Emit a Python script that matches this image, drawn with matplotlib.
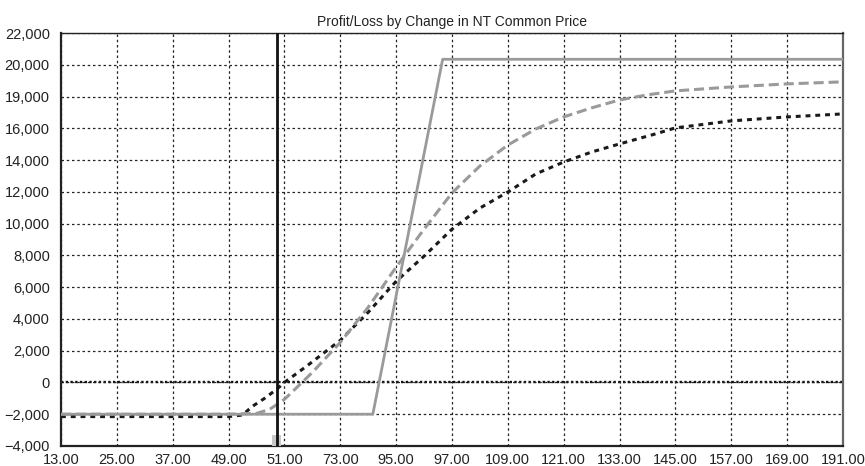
import matplotlib.pyplot as plt
import numpy as np

# 数据：NT 普通股价格变化对应的盈亏
price_expiry = [13, 80, 95, 181]
pl_expiry = [-2000, -2000, 20350, 20350]

price_mid = [13, 25, 37, 49, 55, 57.8, 61, 67, 73, 79, 85, 91, 97, 103,
             109, 115, 121, 127, 133, 139, 145, 157, 169, 181]
pl_mid = [-2000, -2000, -2000, -2000, -1950, -1700, -1070, 630, 2520, 4730,
          7260, 9650, 11930, 13630, 14950, 15960, 16720, 17290, 17790, 18110,
          18360, 18610, 18800, 18930]

price_far = [13, 25, 37, 49, 52, 54.1, 56.7, 59.3, 61, 65.7, 73, 79, 85, 91,
             97, 103, 109, 115, 121, 127, 133, 140.7, 145, 157, 169, 181]
pl_far = [-2150, -2150, -2150, -2150, -2050, -1510, -1010, -440, 0, 1010,
          2650, 4420, 6370, 7950, 9650, 10980, 11990, 13130, 13880, 14510,
          15020, 15650, 16030, 16470, 16720, 16910]

current_price = 59.5

x_ticks = np.arange(13, 182, 12)
x_labels = ['13.00', '25.00', '37.00', '49.00', '51.00', '73.00', '95.00',
            '97.00', '109.00', '121.00', '133.00', '145.00', '157.00',
            '169.00', '191.00']
y_ticks = np.arange(-4000, 22001, 2000)
y_labels = ['\u22124,000', '\u22122,000', '0', '2,000', '4,000', '6,000',
            '8,000', '10,000', '12,000', '14,000', '16,000', '19,000',
            '20,000', '22,000']

plt.rcParams['font.family'] = ['Liberation Sans Narrow', 'Liberation Sans', 'DejaVu Sans']

fig = plt.figure(figsize=(8.65, 4.66), dpi=100)
ax = fig.add_axes([0.0705, 0.043, 0.904, 0.886])

# 网格
ax.grid(True, color='#222222', linewidth=0.9, linestyle=(0, (2, 2.2)), zorder=0)
ax.axhline(0, color='#111111', linewidth=1.7, linestyle=(0, (1, 1)), zorder=1)

# 曲线
ax.plot(price_far, pl_far, color='#1a1a1a', linewidth=2.2,
        linestyle=(0, (1.6, 1.6)), zorder=3)
ax.plot(price_mid, pl_mid, color='#9a9a9a', linewidth=2.2,
        linestyle=(0, (3.3, 1.6)), zorder=3)
ax.plot(price_expiry, pl_expiry, color='#9a9a9a', linewidth=2.0, zorder=4)

# 当前价格
ax.axvline(current_price, color='#111111', linewidth=2.0, zorder=5)
ax.bar(current_price - 0.2, 700, bottom=-4000, width=1.9, color='#c8c8c8', zorder=4)

ax.set_xlim(13, 181)
ax.set_ylim(-4000, 22000)
ax.set_xticks(x_ticks)
ax.set_xticklabels(x_labels)
ax.set_yticks(y_ticks)
ax.set_yticklabels(y_labels)
ax.tick_params(axis='both', length=0, labelsize=10.5, colors='#222222')
ax.tick_params(axis='x', pad=5)
ax.tick_params(axis='y', pad=8)

for side in ['left', 'bottom']:
    ax.spines[side].set_linewidth(1.6)
    ax.spines[side].set_color('#222222')
ax.spines['top'].set_linewidth(1.0)
ax.spines['top'].set_color('#222222')
ax.spines['right'].set_linewidth(1.6)
ax.spines['right'].set_color('#666666')

ax.set_title('Profit/Loss by Change in NT Common Price', fontsize=10,
             color='#222222', pad=5)

plt.savefig('out.png', dpi=100)
